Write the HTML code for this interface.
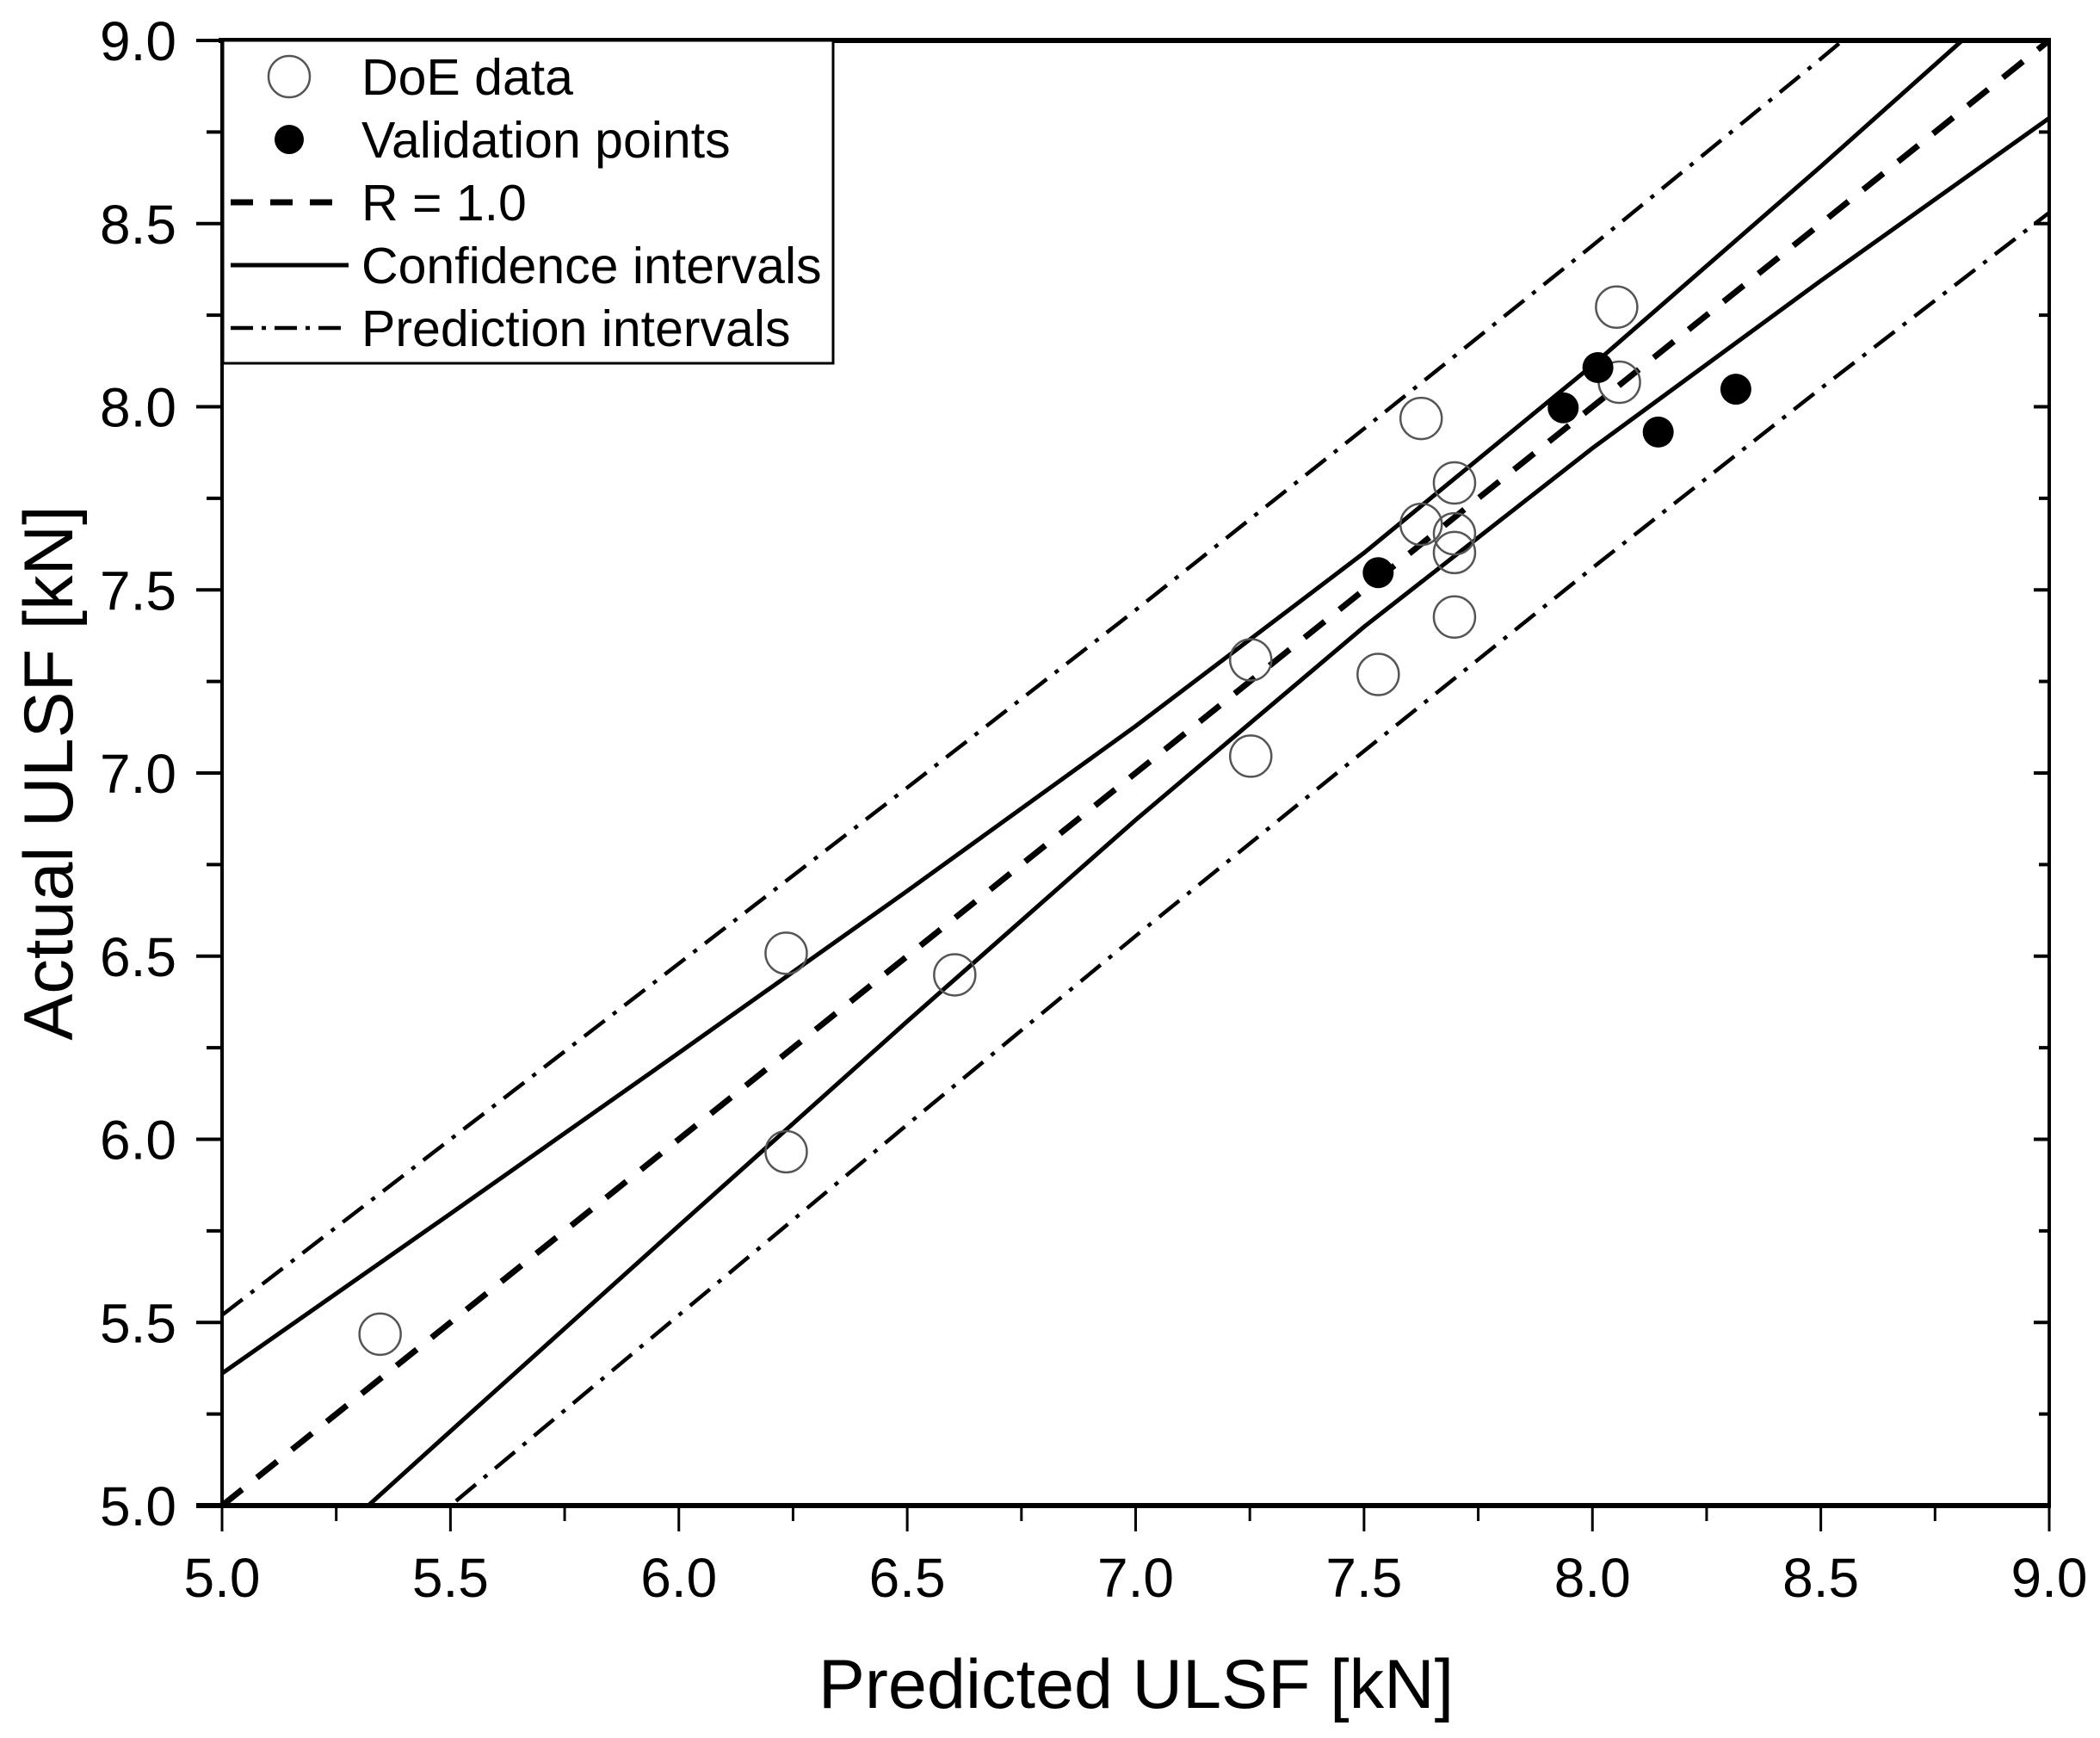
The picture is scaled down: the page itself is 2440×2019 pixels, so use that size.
<!DOCTYPE html>
<html><head><meta charset="utf-8"><style>
html,body{margin:0;padding:0;background:#fff}
svg{display:block}
text{font-family:"Liberation Sans",Arial,sans-serif;fill:#000}
</style></head><body>
<svg id="chart" width="2440" height="2019" viewBox="0 0 2440 2019" xmlns="http://www.w3.org/2000/svg">
<g id="marks"></g>
<g id="axes"></g>
<g id="legend">
  <rect x="259" y="47" width="709" height="375" fill="#fff" stroke="#000" stroke-width="3"/>
  <circle cx="336" cy="89" r="24" fill="#fff" stroke="#555" stroke-width="2.5"/>
  <text x="420" y="110" font-size="59">DoE data</text>
  <circle cx="336" cy="162" r="17" fill="#000"/>
  <text x="420" y="183" font-size="59">Validation points</text>
  <line x1="268" y1="235" x2="405" y2="235" stroke="#000" stroke-width="7" stroke-dasharray="26,20"/>
  <text x="420" y="256" font-size="59">R = 1.0</text>
  <line x1="268" y1="308" x2="405" y2="308" stroke="#000" stroke-width="5"/>
  <text x="420" y="329" font-size="59">Confidence intervals</text>
  <line x1="268" y1="381" x2="405" y2="381" stroke="#000" stroke-width="4.5" stroke-dasharray="26,10,5,10"/>
  <text x="420" y="402" font-size="59">Prediction intervals</text>
</g>
<text x="1320" y="1984" font-size="81" text-anchor="middle">Predicted ULSF [kN]</text>
<text transform="translate(84,898) rotate(-90)" font-size="81" text-anchor="middle">Actual ULSF [kN]</text>
</svg>
<script>
const doeX = [5.346, 6.235, 6.235, 6.604, 7.252, 7.252, 7.531, 7.625, 7.625, 7.698, 7.698, 7.698, 7.698, 8.053, 8.059];
const doeY = [5.468, 6.508, 5.966, 6.449, 7.309, 7.046, 7.269, 7.968, 7.679, 7.792, 7.653, 7.602, 7.426, 8.272, 8.067];
const valX = [7.531, 7.936, 8.012, 8.144, 8.314];
const valY = [7.547, 7.997, 8.107, 7.931, 8.048];
const bandX = [5.0, 5.5, 6.0, 6.5, 7.0, 7.5, 8.0, 8.5, 9.0];
const ciUpper = [5.361, 5.797, 6.236, 6.678, 7.128, 7.601, 8.113, 8.656, 9.212];
const ciLower = [4.639, 5.203, 5.764, 6.322, 6.872, 7.399, 7.887, 8.344, 8.788];
const piUpper = [5.52, 6.00, 6.48, 6.96, 7.445, 7.94, 8.44, 8.95, 9.47];
const piLower = [4.48, 5.00, 5.52, 6.04, 6.555, 7.06, 7.56, 8.05, 8.53];
const refX = [5.0, 9.0];
const refY = [5.0, 9.0];
const xTicks = ["5.0","5.5","6.0","6.5","7.0","7.5","8.0","8.5","9.0"];
const yTicks = ["5.0","5.5","6.0","6.5","7.0","7.5","8.0","8.5","9.0"];

const X0=258, X1=2381, Y0=1749, Y1=47, VMIN=5, VMAX=9;
const sx = v => X0 + (v-VMIN)/(VMAX-VMIN)*(X1-X0);
const sy = v => Y0 - (v-VMIN)/(VMAX-VMIN)*(Y0-Y1);
const NS="http://www.w3.org/2000/svg";
const svg=document.getElementById('chart');
const marks=document.getElementById('marks');
const axes=document.getElementById('axes');
function mk(tag, attrs, parent){const e=document.createElementNS(NS,tag);for(const k in attrs)e.setAttribute(k,attrs[k]);parent.appendChild(e);return e;}

const defs=mk('defs',{},svg);
const cp=mk('clipPath',{id:'plotclip'},defs);
mk('rect',{x:X0,y:Y1,width:X1-X0,height:Y0-Y1},cp);
marks.setAttribute('clip-path','url(#plotclip)');

function poly(xs, ys, name, style){
  const pts=xs.map((x,i)=>sx(x).toFixed(1)+','+sy(ys[i]).toFixed(1)).join(' ');
  const p=mk('polyline',Object.assign({points:pts,fill:'none',stroke:'#000'},style),marks);
  
  
}
poly(bandX, piUpper, 'prediction-upper', {'stroke-width':4.5,'stroke-dasharray':'30,12,5,12'});
poly(bandX, piLower, 'prediction-lower', {'stroke-width':4.5,'stroke-dasharray':'30,12,5,12'});
poly(bandX, ciUpper, 'confidence-upper', {'stroke-width':5});
poly(bandX, ciLower, 'confidence-lower', {'stroke-width':5});
poly(refX, refY, 'reference-line-r1', {'stroke-width':7,'stroke-dasharray':'30,22'});

doeX.forEach((x,i)=>{
  const c=mk('circle',{cx:sx(x),cy:sy(doeY[i]),r:24,fill:'none',stroke:'#555','stroke-width':2.5},marks);
  
  
});
valX.forEach((x,i)=>{
  const c=mk('circle',{cx:sx(x),cy:sy(valY[i]),r:18,fill:'#000'},marks);
  
  
});

const fr=mk('rect',{x:X0,y:Y1,width:X1-X0,height:Y0-Y1,fill:'none',stroke:'#000','stroke-width':4},axes);


const topl=mk('line',{x1:X0-4,y1:Y1,x2:X1+2,y2:Y1,stroke:'#000','stroke-width':6},axes);


const botl=mk('line',{x1:X0-30,y1:Y0,x2:X1+2,y2:Y0,stroke:'#000','stroke-width':6},axes);



xTicks.forEach((t,i)=>{
  const v=parseFloat(t), x=sx(v);
  const l=mk('line',{x1:x,y1:Y0,x2:x,y2:Y0+30,stroke:'#000','stroke-width':3},axes);
  
  
  if(i<xTicks.length-1){
    const xm=sx(v+0.25);
    const m=mk('line',{x1:xm,y1:Y0,x2:xm,y2:Y0+18,stroke:'#000','stroke-width':3},axes);
    
    
  }
  const tx=mk('text',{x:x,y:1855,'font-size':64,'text-anchor':'middle'},axes);
  tx.textContent=t;
  
  
});
yTicks.forEach((t,i)=>{
  const v=parseFloat(t), y=sy(v);
  const l=mk('line',{x1:X0-30,y1:y,x2:X0,y2:y,stroke:'#000','stroke-width':4},axes);
  
  
  const r=mk('line',{x1:X1-18,y1:y,x2:X1,y2:y,stroke:'#000','stroke-width':4},axes);
  
  
  if(i<yTicks.length-1){
    const ym=sy(v+0.25);
    const m=mk('line',{x1:X0-18,y1:ym,x2:X0,y2:ym,stroke:'#000','stroke-width':4},axes);
    
    
    const mr=mk('line',{x1:X1-12,y1:ym,x2:X1,y2:ym,stroke:'#000','stroke-width':4},axes);
    
    
  }
  const tx=mk('text',{x:205,y:y+23,'font-size':64,'text-anchor':'end'},axes);
  tx.textContent=t;
  
  
});
svg.appendChild(document.getElementById('legend'));
</script>
</body></html>
